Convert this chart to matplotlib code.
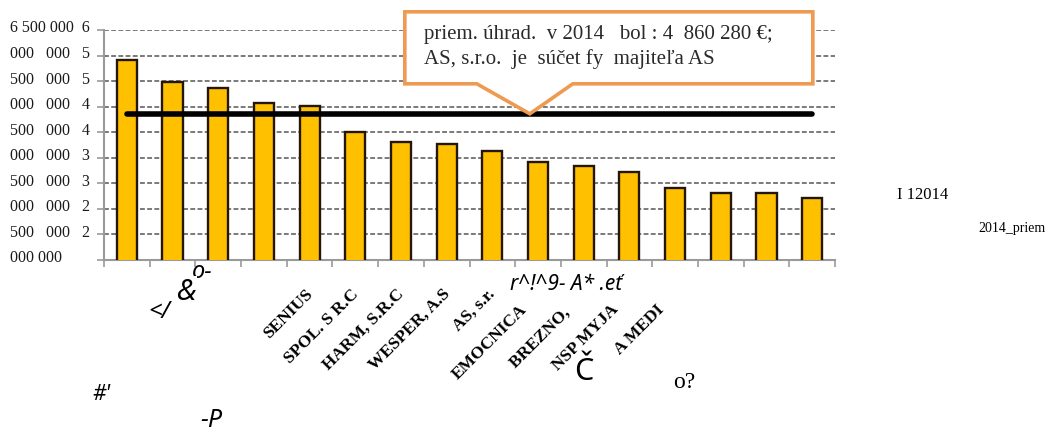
import numpy as np
import matplotlib
matplotlib.use("Agg")
import matplotlib.pyplot as plt
from matplotlib.patches import Polygon
from matplotlib.transforms import IdentityTransform

# hodnoty stĺpcov (úhrady 2014), zoradené zostupne
values = [5913000, 5489000, 5365000, 5078000, 5019000, 4498000, 4315000, 4270000,
          4139000, 3923000, 3845000, 3728000, 3409000, 3311000, 3311000, 3207000]
average_2014 = 4860280

# čitateľné zvyšky popisov osi x (index stĺpca, text)
label_idx = [4, 5, 6, 7, 8, 9, 10, 11, 12]
label_txt = ["SENIUS", "SPOL. S R.C", "HARM, S.R.C", "WESPER, A.S", "AS, s.r.",
             "EMOCNICA", "BREZNO, ", "NSP MYJA", "A MEDI"]

yticks = [6500000, 6000000, 5500000, 5000000, 4500000, 4000000, 3500000,
          3000000, 2500000, 2000000]
ytick_lines = ["6 500 000  6", "000   000   5", "500   000   5", "000   000   4",
               "500   000   4", "000   000   3", "500   000   3", "000   000   2",
               "500   000   2", "000 000"]

callout_lines = ["priem. úhrad.  v 2014   bol : 4  860 280 €;",
                 "AS, s.r.o.  je  súčet fy  majiteľa AS"]

W, H = 1053, 435
fig = plt.figure(figsize=(W / 100, H / 100), dpi=100)
ax = fig.add_axes([104 / W, (H - 261) / H, 731 / W, 230 / H])

x = np.arange(len(values))
ax.bar(x, values, width=0.44, color="#FFC000", edgecolor="#24160a",
       linewidth=1.7, zorder=3)
ax.plot([x[0], x[-1]], [average_2014, average_2014], color="black",
        linewidth=4, solid_capstyle="round", zorder=4)

ax.set_xlim(-0.5, len(values) - 0.5)
ax.set_ylim(2000000, 6500000)
ax.set_yticks(yticks)
ax.set_yticklabels([])
ax.yaxis.grid(True, linestyle=(0, (2.5, 1.2)), color="#7a7a7a", linewidth=1.4, zorder=1)
ax.set_xticks([])
ax.set_xticks(np.arange(-0.5, len(values)), minor=True)
ax.tick_params(axis="x", which="minor", length=5, color="#9a9a9a", width=1.2)
ax.tick_params(axis="y", length=5, color="#9a9a9a", width=1.2)
for s in ["top", "right"]:
    ax.spines[s].set_visible(False)
for s in ["left", "bottom"]:
    ax.spines[s].set_color("#9a9a9a")
    ax.spines[s].set_linewidth(1.5)

serif = ["Liberation Serif", "DejaVu Serif"]
sans = ["Noto Sans", "DejaVu Sans"]

# rozbité popisky osi y
ytr = ax.get_yaxis_transform()
for v, t in zip(yticks, ytick_lines):
    ax.text(-94 / 731, v + 50000, t, transform=ytr, ha="left", va="center",
            fontsize=11.5, family=serif, color="#1a1a1a", clip_on=False)

# otočené popisky stĺpcov
for i, t in zip(label_idx, label_txt):
    px, py = ax.transData.transform((i, 2000000))
    if i <= 8:
        ax_, ay_ = px - 5, py - 25
    else:
        ax_, ay_ = px - 19, py - 41
    fig.text(ax_ / W, ay_ / H, t, rotation=45, rotation_mode="anchor",
             ha="right", va="top", fontsize=12.5, fontweight="bold", family=serif)

# bublina s priemerom
tx, ty = ax.transData.transform((8.82, average_2014))
verts = [(tx - 125, ty + 30), (tx - 53, ty + 30), (tx, ty), (tx + 43, ty + 30),
         (tx + 283, ty + 30), (tx + 283, ty + 102), (tx - 125, ty + 102)]
bubble = Polygon(verts, closed=True, facecolor="white", edgecolor="#EE9A50",
                 linewidth=2.6, transform=IdentityTransform(), zorder=5)
fig.add_artist(bubble)
for k, line in enumerate(callout_lines):
    fig.text((tx - 106) / W, (ty + 80 - 24 * k) / H, line, ha="left", va="center",
             fontsize=15, family=serif, color="#2a2a2a", zorder=6)

# zvyšky textu (OCR)
def junk(xp, yp, s, size, style="italic", fam=sans, bg=False):
    kw = dict(ha="left", va="center", fontsize=size, style=style, family=fam, zorder=7)
    if bg:
        kw["bbox"] = dict(facecolor="white", edgecolor="none", pad=1)
    fig.text(xp / W, (H - yp) / H, s, **kw)

junk(192, 272, "o-", 17)
junk(176, 293, "&", 21, bg=True)
junk(148, 312, "</", 17)
junk(92, 395, "#'", 15)
junk(200, 421, "-P", 18)
junk(510, 284, "r^!^9- A* .eť", 15, bg=True)
junk(574, 372, "Č", 22, style="normal", bg=True)
junk(673, 383, "o?", 17, style="normal", fam=serif)
junk(897, 195, "I 12014", 12, style="normal", fam=serif)
junk(978, 229, "2014_priem", 10, style="normal", fam=serif)

fig.savefig("out.png", dpi=100)
